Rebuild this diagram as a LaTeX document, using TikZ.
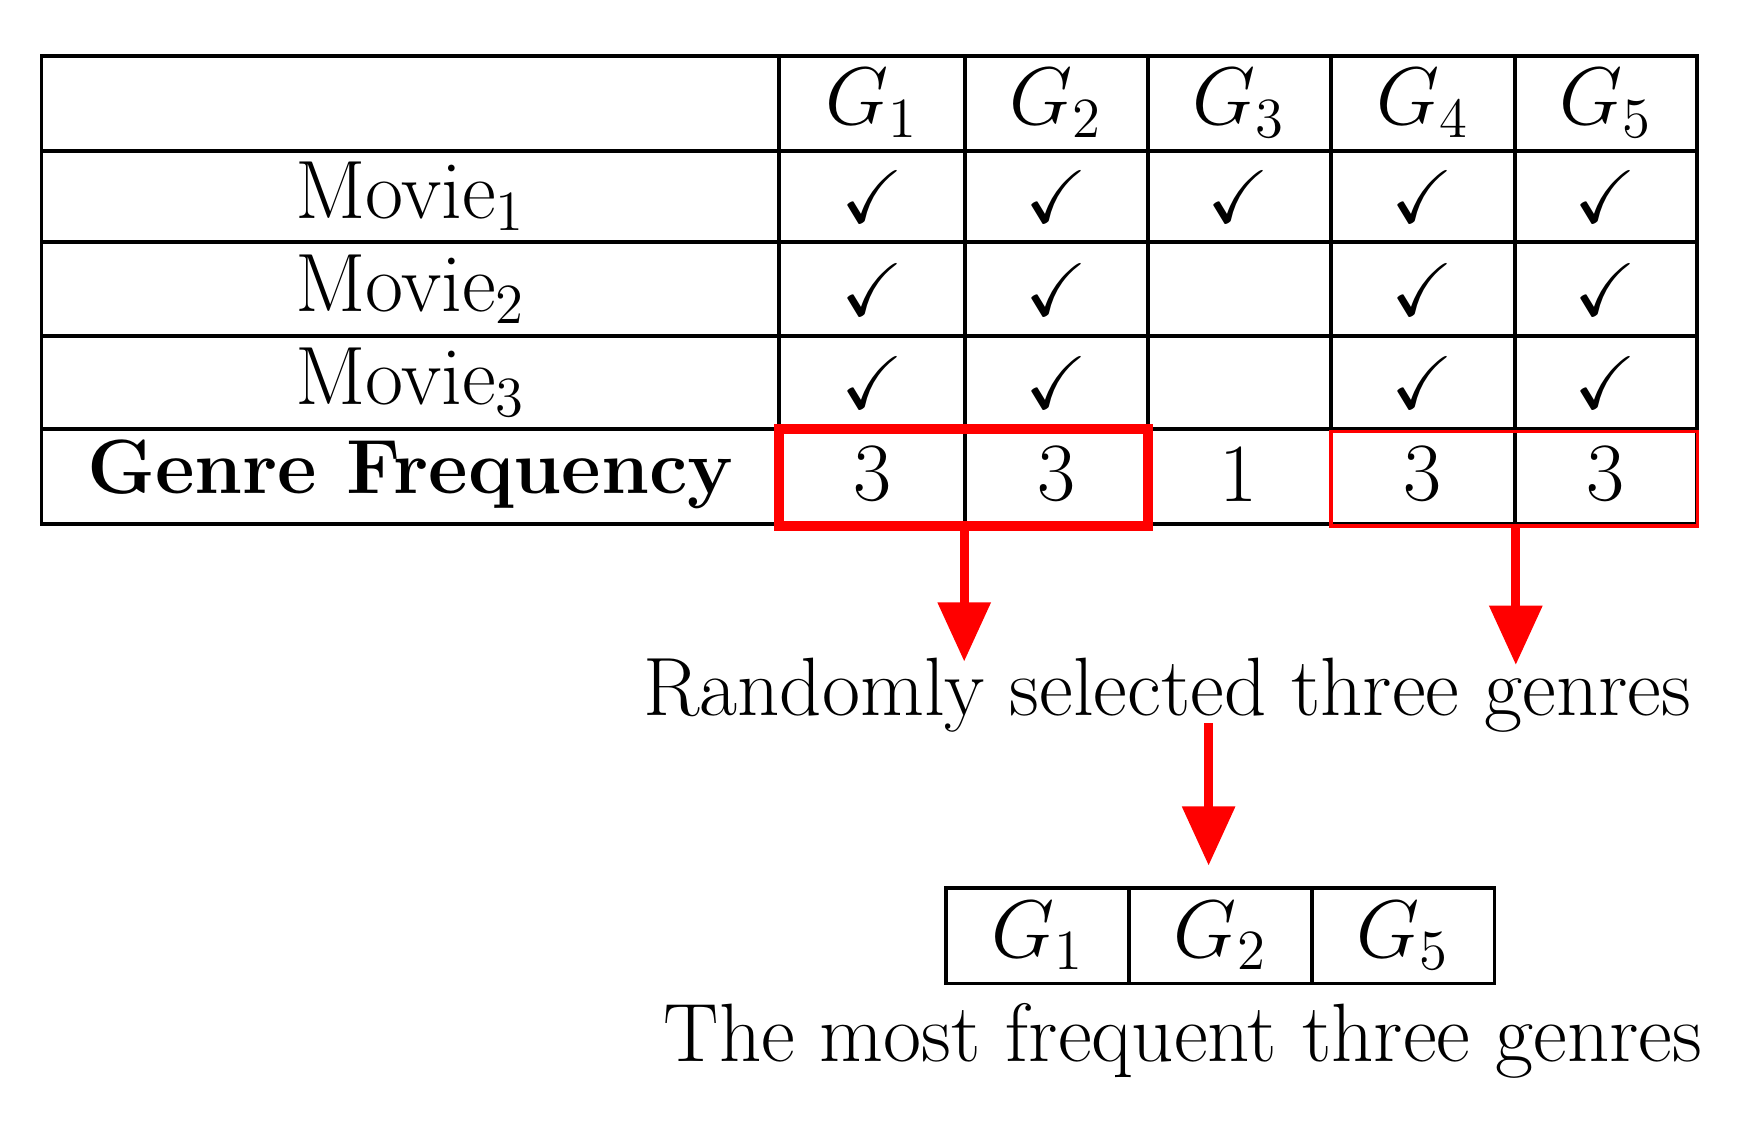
\documentclass[tikz,border=0pt]{standalone}
\usepackage{amssymb}
\usetikzlibrary{arrows.meta}
\begin{document}
\begin{tikzpicture}[x=0.01cm,y=-0.01cm,
  txt/.style={font=\fontsize{21}{24}\selectfont, inner sep=0pt},
  redarrow/.style={draw=red, line width=2.2pt, -{Triangle[width=13pt,length=15pt]}},
  cellbox/.style={draw, line width=0.9pt, inner sep=0pt}]
\useasboundingbox (0,0) rectangle (1568,1011);
% main grid
\draw[line width=1pt] (37,50) rectangle (1514,467);
\foreach \x in {695,861,1024,1187,1351} \draw[line width=1pt] (\x,50) -- (\x,467);
\foreach \y in {135,216,300,383} \draw[line width=1pt] (37,\y) -- (1514,\y);
% headers
\foreach \i/\x in {1/778,2/942,3/1105,4/1269,5/1432}
  \node[txt] (h\i) at (\x,92) {$G_{\i}$};
\foreach \j/\y in {1/175,2/258,3/341}
  \node[txt] (m\j) at (366,\y) {Movie$_{\j}$};
\foreach \x/\n in {778/a,942/b,1105/c,1269/d,1432/e}
  \node[txt,scale=0.9] (c1\n) at (\x,175) {$\checkmark$};
\foreach \x/\n in {778/a,942/b,1269/d,1432/e}{
  \node[txt,scale=0.9] (c2\n) at (\x,258) {$\checkmark$};
  \node[txt,scale=0.9] (c3\n) at (\x,341) {$\checkmark$};}
\node[txt,font=\fontsize{19.5}{22}\selectfont\bfseries] (gf) at (366,423) {Genre Frequency};
\node[txt] (f1) at (778,423) {3};
\node[txt] (f2) at (942,423) {3};
\node[txt] (f3) at (1105,423) {1};
\node[txt] (f4) at (1269,423) {3};
\node[txt] (f5) at (1432,423) {3};
% red boxes
\node[draw=red, line width=2.5pt, minimum width=3.29cm, minimum height=0.86cm, inner sep=0pt] (rb1) at (859.5,426) {};
\node[draw=red, line width=0.9pt, minimum width=3.27cm, minimum height=0.84cm, inner sep=0pt] (rb2) at (1350.5,427) {};
\node[txt] (rand) at (1041,620) {Randomly selected three genres};
\coordinate (t1) at (860,590);
\coordinate (t2) at (1352,593);
\draw[redarrow] (rb1.south -| t1) -- (t1);
\draw[redarrow] (rb2.south -| t2) -- (t2);
% bottom table
\node[cellbox, minimum width=1.63cm, minimum height=0.85cm] (b1) at (925.5,834.5) {};
\node[cellbox, minimum width=1.63cm, minimum height=0.85cm] (b2) at (1088.5,834.5) {};
\node[cellbox, minimum width=1.63cm, minimum height=0.85cm] (b3) at (1251.5,834.5) {};
\node[txt] at (b1) {$G_1$};
\node[txt] at (b2) {$G_2$};
\node[txt] at (b3) {$G_5$};
\coordinate (t3) at (1078,772);
\draw[redarrow] (1078,645) -- (t3);
\node[txt] (most) at (1055,928) {The most frequent three genres};
\end{tikzpicture}
\end{document}
